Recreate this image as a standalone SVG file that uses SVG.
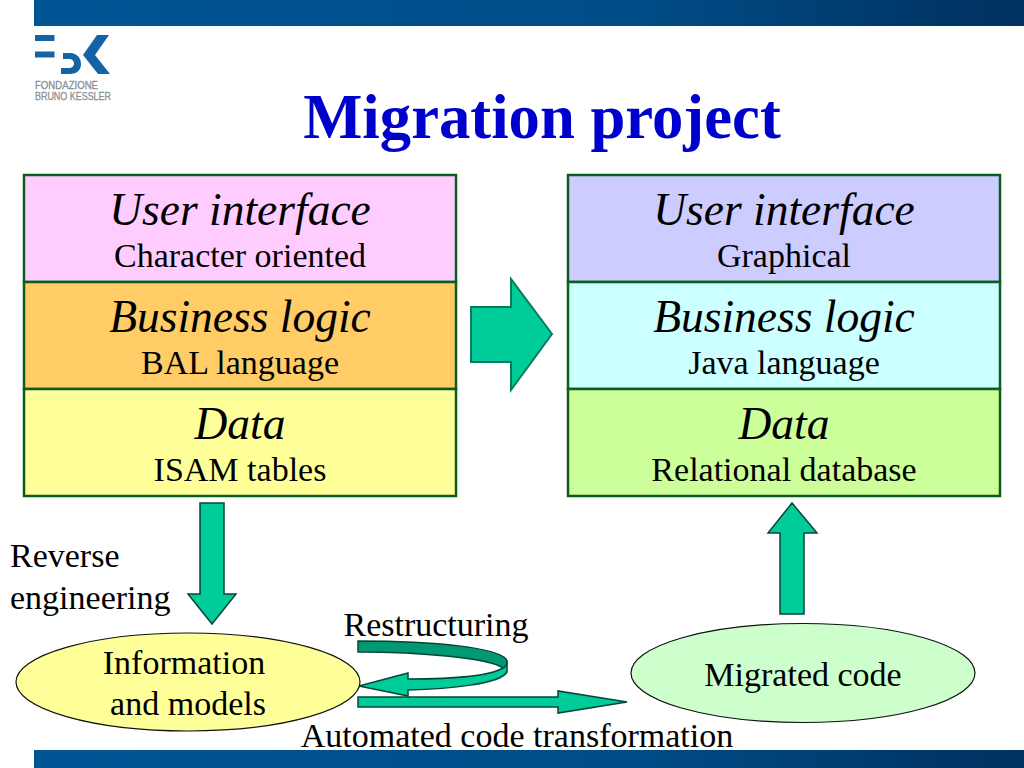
<svg xmlns="http://www.w3.org/2000/svg" width="1024" height="768" viewBox="0 0 1024 768">
<defs>
<linearGradient id="bar" x1="0" y1="0" x2="1" y2="0"><stop offset="0" stop-color="#005596"/><stop offset="0.6" stop-color="#004d88"/><stop offset="1" stop-color="#00315f"/></linearGradient>
</defs>
<style>
text{font-family:"Liberation Serif","Times New Roman",serif;fill:#000;text-anchor:middle}
.t{font-size:45.500px;font-style:italic}
.s{font-size:34px}
.box{stroke:#0b5d1e;stroke-width:2.500}
.arrow{fill:#00cc99;stroke:#0b7a5c;stroke-width:2}
.dark{stroke:#06463a;stroke-width:1.500}
.ell{stroke:#111;stroke-width:1.200}
.lg{font-family:"Liberation Sans",Arial,sans-serif;font-size:11px;fill:#8a8f94;text-anchor:start;stroke:#8a8f94;stroke-width:.3}
</style>
<rect width="1024" height="768" fill="#fff"/>
<rect x="34" y="0" width="990" height="26" fill="url(#bar)"/>
<rect x="34" y="750" width="990" height="18" fill="url(#bar)"/>
<g id="logo">
<rect x="35" y="35" width="19.500" height="6" fill="#1464a5"/>
<rect x="35" y="51.500" width="19.500" height="6" fill="#1464a5"/>
<path d="M63 53H70C77 53 81 58 81 64C81 70 77 74 70 74H61V68H69C72 68 74 66 74 63.500C74 61 72 59 69 59H63Z" fill="#1464a5"/>
<path d="M97 35H109L95 55L110 74H98L83 55Z" fill="#1464a5"/>
<text class="lg" x="35" y="88.500" textLength="63" lengthAdjust="spacingAndGlyphs">FONDAZIONE</text>
<text class="lg" x="35" y="99.500" textLength="76" lengthAdjust="spacingAndGlyphs">BRUNO KESSLER</text>
</g>
<text x="542" y="138" font-size="62.700" font-weight="700" style="fill:#0000cc">Migration project</text>

<g id="left-ui"><rect class="box" x="24" y="175" width="432" height="107" fill="#ffccff"/><text class="t" x="240" y="225">User interface</text><text class="s" x="240" y="267">Character oriented</text></g>
<g id="left-logic"><rect class="box" x="24" y="282" width="432" height="107" fill="#ffcc66"/><text class="t" x="240" y="332">Business logic</text><text class="s" x="240" y="374">BAL language</text></g>
<g id="left-data"><rect class="box" x="24" y="389" width="432" height="107" fill="#ffff99"/><text class="t" x="240" y="439">Data</text><text class="s" x="240" y="481">ISAM tables</text></g>
<g id="right-ui"><rect class="box" x="568" y="175" width="432" height="107" fill="#ccccff"/><text class="t" x="784" y="225">User interface</text><text class="s" x="784" y="267">Graphical</text></g>
<g id="right-logic"><rect class="box" x="568" y="282" width="432" height="107" fill="#ccffff"/><text class="t" x="784" y="332">Business logic</text><text class="s" x="784" y="374">Java language</text></g>
<g id="right-data"><rect class="box" x="568" y="389" width="432" height="107" fill="#ccff99"/><text class="t" x="784" y="439">Data</text><text class="s" x="784" y="481">Relational database</text></g>

<g id="connectors">
<path class="arrow" d="M471 307H511V279L552 334L511 390V362H471Z"/>
<path class="arrow dark" d="M200 503H224V594H236L212 624L188 594H200Z"/>
<path class="arrow dark" d="M780 614H804V533H817L792 503L768 533H780Z"/>
<path class="arrow dark" d="M359 686L408 673V679C450 679 490 676 503 668L507 662V672C500 684 450 689 408 690V696Z"/>
<path d="M358 641V652C420 652 490 658 503 668C508 666 507 661 506 659C496 648 440 641 358 641Z" fill="#009973" stroke="#06463a" stroke-width="1.500"/>
<path class="arrow dark" d="M358 697H558V691L627 702L558 713V707H358Z"/>
</g>

<g id="reverse-label"><text class="s" x="10" y="567" style="text-anchor:start">Reverse</text><text class="s" x="10" y="609" style="text-anchor:start">engineering</text></g>
<g id="restructuring-label"><text class="s" x="436" y="636">Restructuring</text></g>
<g id="transformation-label"><text class="s" x="517" y="747">Automated code transformation</text></g>
<g id="info"><ellipse class="ell" cx="188" cy="682" rx="172" ry="49" fill="#ffff99"/><text class="s" x="184" y="674">Information</text><text class="s" x="188" y="715">and models</text></g>
<g id="migrated"><ellipse class="ell" cx="803" cy="673" rx="172" ry="49.500" fill="#ccffcc"/><text class="s" x="803" y="686">Migrated code</text></g>
</svg>
